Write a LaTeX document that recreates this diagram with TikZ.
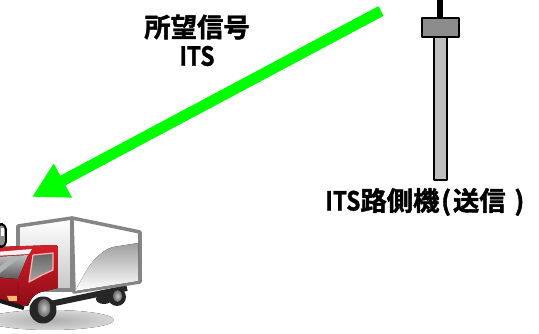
\documentclass[tikz,border=0pt]{standalone}
\usepackage{fontspec}
\newfontfamily\cjk[FakeBold=1.6]{Noto Sans CJK JP Bold}
\newfontfamily\cjknarrow[FakeStretch=0.86,FakeBold=1.2]{Noto Sans CJK JP Bold}
\usetikzlibrary{arrows.meta}

\definecolor{cabtop}{HTML}{D21F2B}
\definecolor{cabbottom}{HTML}{8E0C16}
\definecolor{polegrey}{HTML}{BFBFBF}
\definecolor{headgrey}{HTML}{8C8C8C}

\tikzset{
  label/.style={font=\cjk\fontsize{15pt}{16pt}\selectfont, inner sep=0pt, text=black},
  signal/.style={draw=green, line width=6.2pt, -{Triangle[length=0.7cm, width=0.72cm, fill=green]}},
  wheel/.style={fill=black!85},
  hub/.style={inner color=black!22, outer color=black!60},
}

\begin{document}
\begin{tikzpicture}[x=0.02cm, y=-0.02cm, line join=round]
  \useasboundingbox (0,0) rectangle (539,334);
  \clip (0,0) rectangle (539,334);

  % roadside unit
  \fill[black] (437,0) rectangle (443,18);
  \draw[line width=0.9pt, fill=polegrey] (434,37) rectangle (447,180);
  \draw[line width=0.9pt, fill=headgrey] (422,18) rectangle (459,37);

  % signal path
  \coordinate (tx) at (381,11);
  \coordinate (rx) at (32,197);
  \draw[signal] (tx) -- (rx);

  % labels
  \node[label] (want) at (197,27) {所望信号};
  \node[label] (wantits) at (197,56) {\cjknarrow ITS};
  \node[label, anchor=west] (unit) at (325,202)
    {\cjknarrow ITS\cjk 路側機\hspace{1pt}(\hspace{1pt}送信\hspace{5pt})};

  % truck
  \begin{scope}
    \fill[inner color=black!32, outer color=black!16] (50,320) ellipse (64 and 10);
    % chassis and rear wheels
    \draw[black!85, line width=3.4pt] (50,304) -- (127,288);
    \fill[wheel] (117,297) circle (9);
    \fill[wheel] (104,299) ellipse (8 and 5);
    \fill[hub] (117.5,296) ellipse (4.5 and 6);
    % cargo box
    \draw[black!48, line width=2pt, top color=white, bottom color=black!22]
      (18,226) -- (72,218) -- (72,290) -- (18,290) -- cycle;
    \draw[black!48, line width=2pt, fill=white]
      (72,218) -- (140,232) -- (140,282) -- (74,292) -- cycle;
    \fill[top color=black!38, bottom color=white]
      (83,277) .. controls (90,262) and (102,250) .. (113,247) -- (138.5,243) -- (138.5,281) -- (75,291) -- cycle;
    % cab
    \fill[top color=cabtop, bottom color=cabbottom]
      (-5,247) -- (56,245) -- (58,247) -- (58,288) -- (50,290) .. controls (36,292) and (32,296) .. (28,306) -- (-5,302) -- cycle;
    \draw[cabbottom, line width=0.6pt] (18,282) -- (19,304);
    \fill[black!5] (-5,252) -- (32,249) -- (29,254) -- (-5,256) -- cycle;
    % windows
    \fill[top color=black!25, bottom color=black!65] (-5,257) -- (28,255) -- (18,279) -- (-5,277) -- cycle;
    \fill[white!70!black] (-5,270) -- (14,256) -- (22,256) -- (0,273) -- cycle;
    \draw[white!70!red, line width=0.7pt, top color=black!60, bottom color=black!35]
      (33,255) -- (53,253) -- (53,270) -- (42,275) -- (29,282) -- cycle;
    % bumper, headlight and front wheel
    \fill[orange!55!white] (7,296) -- (17,296) -- (17,301) -- (9,301) -- cycle;
    \draw[black!90, line width=2.4pt] (-3,300) -- (24,308);
    \fill[wheel] (43,310) circle (13.5);
    \fill[hub] (44,308) ellipse (6.5 and 9);
    % exhaust stack
    \draw[black, line width=1.1pt, fill=black!45, rounded corners=3pt] (-3,224) rectangle (6,247);
    \fill[white] (1.5,228) rectangle (4,236);
  \end{scope}
\end{tikzpicture}
\end{document}
